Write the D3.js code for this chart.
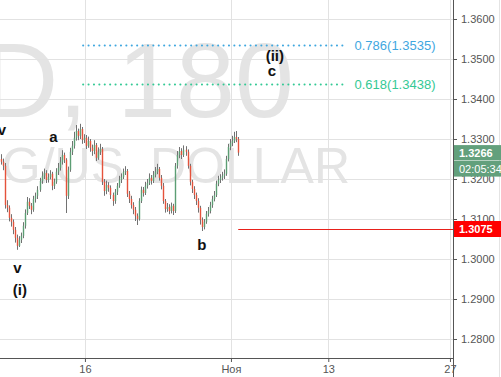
<!DOCTYPE html>
<html>
<head>
<meta charset="utf-8">
<script src="https://cdn.jsdelivr.net/npm/d3@7"></script>
<style>
  body { margin: 0; background: #fff; }
  svg { display: block; font-family: "Liberation Sans", Arial, sans-serif; }
</style>
</head>
<body>
<svg id="chart" width="501" height="377"></svg>
<script>
// GBPUSD, 180 min bars
// open of each bar is the close of the bar before it
var firstOpen = 1.3250;
var closes = [
  1.3243, 1.3233, 1.3135, 1.3128, 1.3103, 1.3093, 1.3073, 1.3053, 1.3033, 1.3048,
  1.3058, 1.3083, 1.3115, 1.3143, 1.3133, 1.3123, 1.3150, 1.3158, 1.3173, 1.3195,
  1.3208, 1.3215, 1.3198, 1.3205, 1.3213, 1.3183, 1.3193, 1.3218, 1.3228, 1.3243,
  1.3260, 1.3248, 1.3158, 1.3223, 1.3268, 1.3283, 1.3303, 1.3320, 1.3308, 1.3325,
  1.3298, 1.3303, 1.3283, 1.3295, 1.3278, 1.3270, 1.3285, 1.3253, 1.3268, 1.3275,
  1.3193, 1.3170, 1.3185, 1.3178, 1.3160, 1.3145, 1.3168, 1.3183, 1.3198, 1.3205,
  1.3218, 1.3220, 1.3163, 1.3150, 1.3135, 1.3123, 1.3108, 1.3100, 1.3145, 1.3173,
  1.3165, 1.3183, 1.3190, 1.3203, 1.3195, 1.3210, 1.3218, 1.3225, 1.3203, 1.3183,
  1.3145, 1.3125, 1.3130, 1.3120, 1.3133, 1.3120, 1.3233, 1.3260, 1.3270, 1.3260,
  1.3273, 1.3268, 1.3233, 1.3193, 1.3175, 1.3160, 1.3145, 1.3128, 1.3098, 1.3080,
  1.3093, 1.3113, 1.3120, 1.3135, 1.3150, 1.3160, 1.3188, 1.3198, 1.3203, 1.3208,
  1.3213, 1.3250, 1.3280, 1.3290, 1.3295, 1.3305, 1.3300, 1.3266
];
var highs = [
  1.3262, 1.3251, 1.3240, 1.3147, 1.3134, 1.3112, 1.3099, 1.3080, 1.3061, 1.3057,
  1.3066, 1.3092, 1.3124, 1.3155, 1.3152, 1.3140, 1.3158, 1.3166, 1.3182, 1.3203,
  1.3219, 1.3226, 1.3222, 1.3214, 1.3222, 1.3218, 1.3201, 1.3227, 1.3240, 1.3255,
  1.3272, 1.3266, 1.3252, 1.3231, 1.3278, 1.3295, 1.3318, 1.3335, 1.3326, 1.3338,
  1.3330, 1.3312, 1.3310, 1.3306, 1.3300, 1.3286, 1.3297, 1.3290, 1.3279, 1.3288,
  1.3280, 1.3200, 1.3196, 1.3192, 1.3184, 1.3166, 1.3175, 1.3190, 1.3208, 1.3214,
  1.3226, 1.3232, 1.3225, 1.3170, 1.3158, 1.3142, 1.3130, 1.3114, 1.3152, 1.3181,
  1.3180, 1.3193, 1.3200, 1.3214, 1.3210, 1.3220, 1.3230, 1.3238, 1.3230, 1.3210,
  1.3190, 1.3150, 1.3140, 1.3137, 1.3141, 1.3138, 1.3240, 1.3270, 1.3280, 1.3277,
  1.3284, 1.3282, 1.3274, 1.3238, 1.3198, 1.3182, 1.3166, 1.3152, 1.3133, 1.3104,
  1.3100, 1.3120, 1.3130, 1.3143, 1.3158, 1.3170, 1.3196, 1.3208, 1.3212, 1.3218,
  1.3224, 1.3258, 1.3288, 1.3300, 1.3308, 1.3318, 1.3320, 1.3305
];
var lows = [
  1.3236, 1.3222, 1.3126, 1.3117, 1.3094, 1.3081, 1.3062, 1.3041, 1.3023, 1.3030,
  1.3040, 1.3052, 1.3076, 1.3110, 1.3125, 1.3112, 1.3118, 1.3141, 1.3150, 1.3168,
  1.3188, 1.3200, 1.3190, 1.3191, 1.3199, 1.3172, 1.3175, 1.3188, 1.3210, 1.3221,
  1.3236, 1.3240, 1.3115, 1.3150, 1.3218, 1.3260, 1.3276, 1.3296, 1.3297, 1.3300,
  1.3288, 1.3290, 1.3275, 1.3278, 1.3268, 1.3258, 1.3262, 1.3245, 1.3248, 1.3260,
  1.3185, 1.3158, 1.3162, 1.3168, 1.3150, 1.3133, 1.3138, 1.3160, 1.3178, 1.3190,
  1.3200, 1.3210, 1.3155, 1.3140, 1.3126, 1.3112, 1.3095, 1.3085, 1.3096, 1.3140,
  1.3156, 1.3160, 1.3176, 1.3185, 1.3186, 1.3190, 1.3204, 1.3212, 1.3196, 1.3174,
  1.3138, 1.3116, 1.3118, 1.3112, 1.3114, 1.3110, 1.3115, 1.3226, 1.3252, 1.3250,
  1.3255, 1.3258, 1.3226, 1.3184, 1.3165, 1.3150, 1.3135, 1.3116, 1.3086, 1.3070,
  1.3074, 1.3088, 1.3106, 1.3114, 1.3128, 1.3144, 1.3155, 1.3182, 1.3190, 1.3196,
  1.3200, 1.3208, 1.3244, 1.3272, 1.3282, 1.3290, 1.3292, 1.3258
];
// time in trading days, day 0 = 16 Oct
var firstDay = -6.9;
var barsPerDay = 6;

var tickDays = [0, 12, 20, 30];
var tickLabels = ["16", "Ноя", "13", "27"];
var priceTicks = [1.28, 1.29, 1.30, 1.31, 1.32, 1.33, 1.34, 1.35, 1.36];

var fibLevels = ["0.786", "0.618"];
var fibPrices = [1.3535, 1.3438];
var fibColors = ["#3fa7df", "#34c995"];
var fibFrom = -0.15, fibTo = 21.5;

var waveText = ["v", "a", "v", "(i)", "b", "(ii)", "c"];
var waveDays = [-6.82, -2.59, -5.55, -5.34, 9.61, 15.61, 15.37];
var wavePrices = [1.3310, 1.3293, 1.2965, 1.2910, 1.3022, 1.3495, 1.3458];

var lastPrice = 1.3266;
var countdown = "02:05:34";
var levelPrice = 1.3075;

var W = 501, H = 377, plotR = 453, plotB = 358;
var svg = d3.select("#chart");

var x = d3.scaleLinear().domain([-6.98, 30.25]).range([0, plotR]);
var y = d3.scaleLinear().domain([1.28, 1.36]).range([339, 19]);

svg.append("defs").append("clipPath").attr("id", "plot")
  .append("rect").attr("width", plotR).attr("height", plotB);

// watermark
svg.append("text")
  .attr("x", 294).attr("y", 117)
  .attr("text-anchor", "end")
  .attr("font-size", 106)
  .attr("fill", "#e4e4e4")
  .text("GBPUSD, 180");
svg.append("text")
  .attr("x", 350).attr("y", 183)
  .attr("text-anchor", "end")
  .attr("font-size", 50)
  .attr("word-spacing", 12)
  .attr("fill", "#e4e4e4")
  .text("POUND STERLING/US DOLLAR");

// grid
var plot = svg.append("g").attr("clip-path", "url(#plot)");
plot.selectAll(".hgrid").data(priceTicks).enter().append("line")
  .attr("x1", 0).attr("x2", plotR)
  .attr("y1", function (d) { return Math.round(y(d)) + 0.5; })
  .attr("y2", function (d) { return Math.round(y(d)) + 0.5; })
  .attr("stroke", "#e2e2e2");
plot.selectAll(".vgrid").data(tickDays).enter().append("line")
  .attr("y1", 0).attr("y2", plotB)
  .attr("x1", function (d) { return Math.round(x(d)) + 0.5; })
  .attr("x2", function (d) { return Math.round(x(d)) + 0.5; })
  .attr("stroke", "#e2e2e2");

// fib levels
fibPrices.forEach(function (p, i) {
  var yy = Math.round(y(p)) + 0.5;
  plot.append("line")
    .attr("x1", x(fibFrom)).attr("x2", x(fibTo))
    .attr("y1", yy).attr("y2", yy)
    .attr("stroke", fibColors[i]).attr("stroke-width", 2)
    .attr("stroke-linecap", "round")
    .attr("stroke-dasharray", "0.1,5.3");
  svg.append("text")
    .attr("x", x(fibTo) + 8).attr("y", yy + 4.5)
    .attr("font-size", 13).attr("fill", fibColors[i])
    .text(fibLevels[i] + "(" + p.toFixed(4) + ")");
});

// candles
var bars = closes.map(function (c, i) {
  return {
    day: firstDay + i / barsPerDay,
    open: i ? closes[i - 1] : firstOpen,
    close: c, high: highs[i], low: lows[i]
  };
});
var candle = plot.selectAll(".bar").data(bars).enter().append("g").attr("class", "bar");
candle.append("line")
  .attr("x1", function (d) { return Math.round(x(d.day)) + 0.5; })
  .attr("x2", function (d) { return Math.round(x(d.day)) + 0.5; })
  .attr("y1", function (d) { return y(d.high); })
  .attr("y2", function (d) { return y(d.low); })
  .attr("stroke", "#727272");
candle.append("rect")
  .attr("x", function (d) { return Math.round(x(d.day)) - 0.2; })
  .attr("width", 1.4)
  .attr("y", function (d) { return y(Math.max(d.open, d.close)); })
  .attr("height", function (d) { return Math.max(1, Math.abs(y(d.open) - y(d.close))); })
  .attr("fill", function (d) { return d.close >= d.open ? "#5c9e74" : "#e5523b"; });

// wave labels
plot.selectAll(".wave").data(waveText).enter().append("text")
  .attr("x", function (d, i) { return x(waveDays[i]); })
  .attr("y", function (d, i) { return y(wavePrices[i]); })
  .attr("text-anchor", "middle")
  .attr("font-size", 15).attr("font-weight", "bold")
  .attr("fill", "#111")
  .text(function (d) { return d; });

// horizontal level at the b low
var ly = Math.round(y(levelPrice)) + 0.5;
svg.append("line")
  .attr("x1", x(bars[bars.length - 1].day)).attr("x2", plotR)
  .attr("y1", ly).attr("y2", ly)
  .attr("stroke", "#e8201a");

// axes
var xAxis = svg.append("g")
  .attr("transform", "translate(0," + plotB + ")")
  .call(d3.axisBottom(x).tickValues(tickDays)
    .tickFormat(function (d, i) { return tickLabels[i]; })
    .tickSize(4).tickSizeOuter(0));
xAxis.select(".domain").remove();

var yAxis = svg.append("g")
  .attr("transform", "translate(" + plotR + ",0)")
  .call(d3.axisRight(y).tickValues(priceTicks)
    .tickFormat(d3.format(".4f"))
    .tickSize(4).tickSizeOuter(0).tickPadding(4));
yAxis.select(".domain").remove();

svg.selectAll(".tick text").attr("fill", "#555").attr("font-size", 11)
  .attr("font-family", "Liberation Sans, Arial, sans-serif");
svg.selectAll(".tick line").attr("stroke", "#555");

svg.append("line").attr("x1", 0).attr("x2", plotR + 0.5)
  .attr("y1", plotB + 0.5).attr("y2", plotB + 0.5).attr("stroke", "#555");
svg.append("line").attr("x1", plotR + 0.5).attr("x2", plotR + 0.5)
  .attr("y1", 0).attr("y2", H).attr("stroke", "#555");
svg.append("line").attr("x1", W - 1.5).attr("x2", W - 1.5)
  .attr("y1", 0).attr("y2", H).attr("stroke", "#e4e4e4");

// price boxes on the axis
function box(yc, h, color, label, bold) {
  svg.append("rect")
    .attr("x", plotR + 1).attr("y", yc - h / 2)
    .attr("width", W - plotR - 1).attr("height", h)
    .attr("fill", color);
  svg.append("text")
    .attr("x", plotR + 6).attr("y", yc + 4)
    .attr("font-size", 11).attr("font-weight", bold ? "bold" : "normal")
    .attr("fill", "#fff")
    .text(label);
}
var py = y(lastPrice);
box(py, 15, "#62a07c", lastPrice.toFixed(4), true);
box(py + 16, 16, "#62a07c", countdown, false);
box(y(levelPrice), 16, "#ff0000", levelPrice.toFixed(4), true);
</script>
</body>
</html>
